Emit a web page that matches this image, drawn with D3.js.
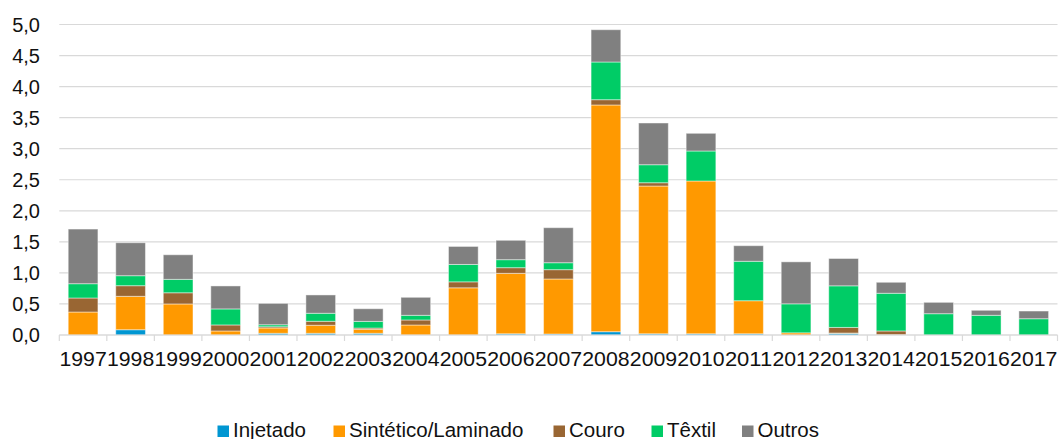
<!DOCTYPE html>
<html>
<head>
<meta charset="utf-8">
<script src="https://cdn.jsdelivr.net/npm/d3@7"></script>
<style>
  html, body { margin: 0; padding: 0; background: #fff; }
  svg { display: block; font-family: "Liberation Sans", Arial, sans-serif; }
</style>
</head>
<body>
<svg id="chart" width="1060" height="439"></svg>
<script>
const years = ["1997","1998","1999","2000","2001","2002","2003","2004","2005","2006","2007","2008","2009","2010","2011","2012","2013","2014","2015","2016","2017"];
const seriesNames = ["Injetado","Sintético/Laminado","Couro","Têxtil","Outros"];
const seriesColors = ["#0096D2","#FF9900","#996633","#00CC66","#808080"];
const injetado  = [0, 0.085, 0, 0, 0.027, 0.027, 0.027, 0, 0, 0.02, 0.016, 0.053, 0.02, 0.02, 0.02, 0, 0.027, 0, 0, 0, 0];
const sintetico = [0.37, 0.538, 0.50, 0.065, 0.086, 0.13, 0.065, 0.161, 0.76, 0.973, 0.886, 3.651, 2.379, 2.46, 0.532, 0.035, 0.005, 0.005, 0, 0, 0];
const couro     = [0.226, 0.171, 0.18, 0.097, 0.02, 0.064, 0.02, 0.081, 0.096, 0.091, 0.15, 0.085, 0.053, 0, 0, 0, 0.09, 0.06, 0, 0, 0];
const textil    = [0.23, 0.161, 0.216, 0.258, 0.032, 0.129, 0.107, 0.075, 0.28, 0.129, 0.112, 0.607, 0.29, 0.483, 0.635, 0.467, 0.67, 0.607, 0.343, 0.317, 0.262];
const outros    = [0.88, 0.531, 0.396, 0.37, 0.344, 0.295, 0.204, 0.29, 0.29, 0.312, 0.564, 0.52, 0.672, 0.285, 0.251, 0.676, 0.44, 0.177, 0.183, 0.081, 0.124];
const yTicks = [0, 0.5, 1.0, 1.5, 2.0, 2.5, 3.0, 3.5, 4.0, 4.5, 5.0];

const seriesValues = [injetado, sintetico, couro, textil, outros];
const rows = years.map((yr, i) => {
  const r = { year: yr };
  seriesNames.forEach((s, k) => r[s] = seriesValues[k][i]);
  return r;
});

const svg = d3.select("#chart");
const plotLeft = 59.3, plotRight = 1057.5, plotTop = 24.5, plotBottom = 335;

const x = d3.scaleBand().domain(years).range([plotLeft, plotRight]).paddingInner(0.375).paddingOuter(0.1875);
const y = d3.scaleLinear().domain([0, 5]).range([plotBottom, plotTop]);

// gridlines
svg.append("g").selectAll("line").data(yTicks).join("line")
  .attr("x1", plotLeft).attr("x2", plotRight)
  .attr("y1", d => y(d)).attr("y2", d => y(d))
  .attr("stroke", "#d9d9d9").attr("stroke-width", 1.2);

// y labels
const fmt = d => d.toFixed(1).replace(".", ",");
svg.append("g").selectAll("text").data(yTicks).join("text")
  .attr("x", 40).attr("y", d => y(d)).attr("dy", "0.36em")
  .attr("text-anchor", "end").attr("font-size", 20).attr("fill", "#111")
  .text(fmt);

// stacked bars
const stack = d3.stack().keys(seriesNames)(rows);
svg.append("g").selectAll("g").data(stack).join("g")
  .attr("fill", (d, i) => seriesColors[i])
  .selectAll("rect").data(d => d).join("rect")
  .attr("x", d => x(d.data.year))
  .attr("width", x.bandwidth())
  .attr("y", d => y(d[1]))
  .attr("height", d => Math.max(0, y(d[0]) - y(d[1])))
  .attr("stroke", "#ffffff").attr("stroke-opacity", 0.45).attr("stroke-width", 1);

// x axis
const xAxis = d3.axisBottom(x).tickSize(0).tickPadding(0);
const gx = svg.append("g").attr("transform", `translate(0,${plotBottom})`).call(xAxis);
gx.select(".domain").remove();
gx.selectAll("text").attr("font-size", 20).attr("fill", "#111")
  .attr("font-family", "'Liberation Sans', Arial, sans-serif")
  .attr("y", 31).attr("dy", 0)
  .attr("textLength", 47.3).attr("lengthAdjust", "spacingAndGlyphs");
svg.append("line").attr("x1", plotLeft).attr("x2", plotRight).attr("y1", plotBottom).attr("y2", plotBottom)
  .attr("stroke", "#d9d9d9").attr("stroke-width", 1.2);
const boundaries = years.map(d => x(d) - x.step() * x.paddingInner() / 2).concat([plotRight]);
boundaries[0] = plotLeft;
svg.append("g").selectAll("line").data(boundaries).join("line")
  .attr("x1", d => d).attr("x2", d => d).attr("y1", plotBottom).attr("y2", plotBottom + 6)
  .attr("stroke", "#d9d9d9").attr("stroke-width", 1.2);

// legend
const legendX = [217.5, 333.5, 553.5, 651.5, 742];
const lg = svg.append("g").selectAll("g").data(seriesNames).join("g")
  .attr("transform", (d, i) => `translate(${legendX[i]},425.5)`);
lg.append("rect").attr("width", 11.5).attr("height", 11.5).attr("fill", (d, i) => seriesColors[i]);
lg.append("text").attr("x", 15.5).attr("y", 11).attr("font-size", 20.5).attr("fill", "#111").text(d => d);
</script>
</body>
</html>
